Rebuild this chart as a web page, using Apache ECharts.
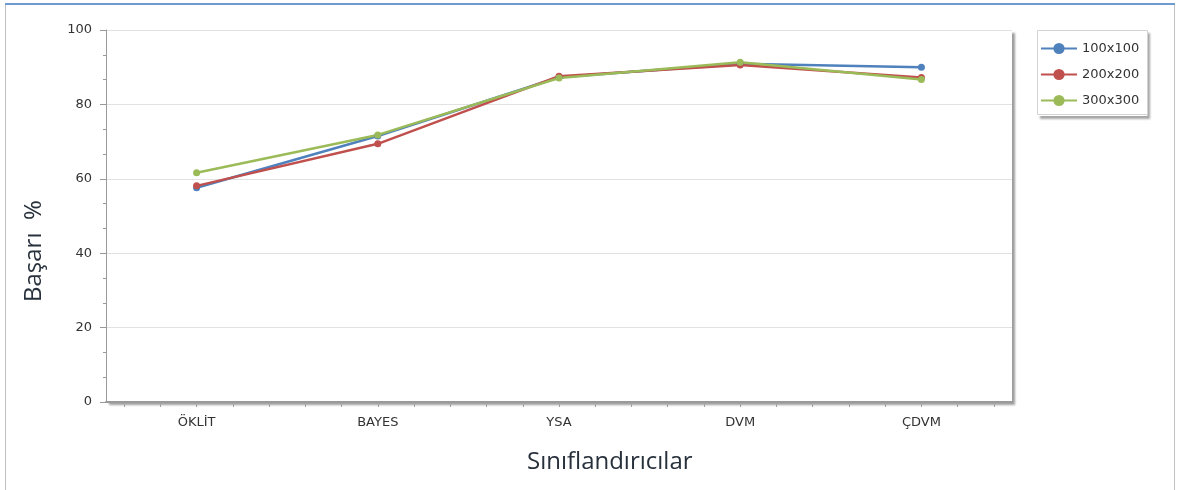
<!DOCTYPE html>
<html>
<head>
<meta charset="utf-8">
<script src="https://cdn.jsdelivr.net/npm/echarts@6/dist/echarts.min.js"></script>
<style>
  html, body { margin: 0; padding: 0; background: #ffffff; }
  #chart { width: 1178px; height: 490px; }
</style>
</head>
<body>
<div id="chart"></div>
<script>
// Classifier accuracy (%) for three image sizes
const categories = ['ÖKLİT', 'BAYES', 'YSA', 'DVM', 'ÇDVM'];
const seriesNames = ['100x100', '200x200', '300x300'];
const values100 = [57.6, 71.5, 87.3, 90.9, 90.0];
const values200 = [58.1, 69.4, 87.6, 90.6, 87.2];
const values300 = [61.6, 71.8, 87.1, 91.3, 86.7];
const yTicks = [0, 20, 40, 60, 80, 100];
const colors = ['#4f81bd', '#c0504d', '#9bbb59'];

// Five sub-slots per category, used only to place the minor ticks on the x axis
const subSlots = [];
categories.forEach(() => { for (let k = 0; k < 5; k++) subSlots.push(''); });

const chart = echarts.init(document.getElementById('chart'), null, { renderer: 'canvas' });
const font = 'Tahoma, "DejaVu Sans", Verdana, sans-serif';
const titleFont = '24px "Open Sans", "Noto Sans", sans-serif';

const makeSeries = (name, data, color) => ({
  name: name,
  type: 'line',
  data: data,
  xAxisIndex: 0,
  yAxisIndex: 0,
  symbol: 'circle',
  symbolSize: 7,
  color: color,
  lineStyle: { width: 2.5, color: color },
  itemStyle: { color: color },
  emphasis: { disabled: true },
  animation: false
});

chart.setOption({
  animation: false,
  backgroundColor: '#ffffff',
  graphic: [
    // page frame with a blue top rule
    { type: 'rect', shape: { x: 5.5, y: 4.5, width: 1169, height: 500 },
      style: { fill: 'none', stroke: '#c0c0c0', lineWidth: 1 }, silent: true },
    { type: 'rect', shape: { x: 5, y: 3, width: 1170, height: 2 },
      style: { fill: '#6f9bd0' }, silent: true },
    // thin frame around the legend box
    { type: 'rect', z: 20, shape: { x: 1037.5, y: 30.5, width: 110, height: 84 },
      style: { fill: 'none', stroke: '#d4d4d4', lineWidth: 1 }, silent: true },
    // axis titles
    { type: 'text', left: 527, top: 450,
      style: { text: 'Sınıflandırıcılar', font: titleFont, fill: '#27303b' } },
    { type: 'text', x: 22, y: 302, rotation: Math.PI / 2,
      style: { text: 'Başarı  %', font: titleFont, fill: '#27303b' } }
  ],
  grid: {
    left: 106, right: 166, top: 30, bottom: 88,
    show: true,
    backgroundColor: '#ffffff',
    borderWidth: 0,
    shadowColor: 'rgba(0,0,0,0.38)',
    shadowBlur: 2,
    shadowOffsetX: 3,
    shadowOffsetY: 3
  },
  legend: {
    data: seriesNames,
    orient: 'vertical',
    left: 1037, top: 30,
    width: 110,
    padding: [12, 8, 9, 3],
    itemGap: 13,
    itemWidth: 36,
    itemHeight: 14,
    backgroundColor: '#ffffff',
    borderWidth: 0,
    shadowColor: 'rgba(0,0,0,0.35)',
    shadowBlur: 2,
    shadowOffsetX: 3,
    shadowOffsetY: 3,
    textStyle: { fontFamily: font, fontSize: 13, color: '#333333' },
    selectedMode: false
  },
  xAxis: [
    {
      type: 'category',
      data: categories,
      boundaryGap: true,
      z: 5,
      axisLine: { lineStyle: { color: '#9a9a9a', width: 2 } },
      axisTick: { alignWithLabel: true, length: 8, lineStyle: { color: '#a0a0a0' } },
      axisLabel: { fontFamily: font, fontSize: 13, color: '#333333', margin: 14 },
      splitLine: { show: false }
    },
    {
      type: 'category',
      data: subSlots,
      position: 'bottom',
      offset: 0,
      boundaryGap: true,
      z: 5,
      axisLine: { show: false },
      axisTick: { show: true, alignWithLabel: true, interval: 0, length: 5, lineStyle: { color: '#a0a0a0' } },
      axisLabel: { show: false },
      splitLine: { show: false }
    }
  ],
  yAxis: {
    type: 'value',
    min: yTicks[0],
    max: yTicks[yTicks.length - 1],
    interval: yTicks[1] - yTicks[0],
    axisLine: { show: true, lineStyle: { color: '#9a9a9a', width: 1 } },
    axisTick: { show: true, length: 6, lineStyle: { color: '#9a9a9a' } },
    minorTick: { show: true, splitNumber: 3, length: 3, lineStyle: { color: '#9a9a9a' } },
    axisLabel: { fontFamily: font, fontSize: 13, color: '#333333', margin: 14 },
    splitLine: { show: true, lineStyle: { color: '#e2e2e2', width: 1 } }
  },
  series: [
    makeSeries(seriesNames[0], values100, colors[0]),
    makeSeries(seriesNames[1], values200, colors[1]),
    makeSeries(seriesNames[2], values300, colors[2])
  ]
});
</script>
</body>
</html>
